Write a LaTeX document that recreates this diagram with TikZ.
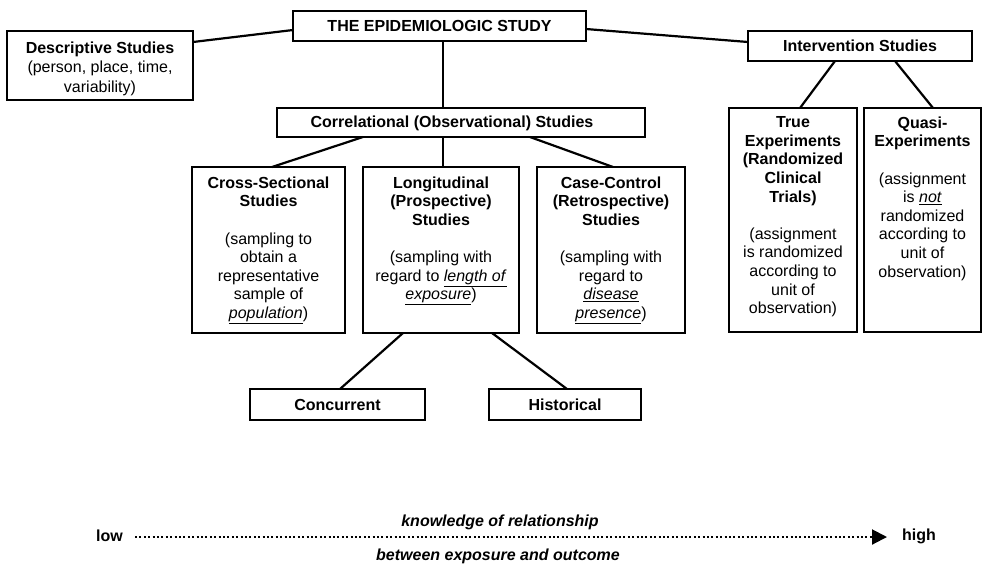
\documentclass[tikz,border=0pt]{standalone}
\usepackage{fontspec}
\setmainfont{Liberation Sans}
\usetikzlibrary{calc,arrows.meta}

\begin{document}
\begin{tikzpicture}[x=1pt,y=-1pt,
  frame/.style={draw, line width=2.4pt, rectangle, inner sep=0pt, outer sep=0pt},
  link/.style={line width=2.2pt},
  hd/.style={font=\fontsize{16}{18.6}\selectfont\bfseries},
  txt/.style={font=\fontsize{16}{18.6}\selectfont, align=center, inner sep=0pt, anchor=north},
  axis/.style={font=\fontsize{16}{18}\selectfont\bfseries\itshape, inner sep=0pt}]
\useasboundingbox (0,0) rectangle (984,566);

% --- boxes -------------------------------------------------------------
\node[frame, hd, minimum width=293pt, minimum height=30pt] (epi) at (439.5,26) {THE EPIDEMIOLOGIC STUDY};
\node[frame, minimum width=186pt, minimum height=69pt] (desc) at (100,65.5) {};
\node[frame, hd, minimum width=224pt, minimum height=30pt] (interv) at (860,46) {Intervention Studies};
\node[frame, minimum width=368pt, minimum height=29pt] (corr) at (461,122.5) {};
\node[frame, minimum width=153pt, minimum height=166pt] (cs) at (268.5,250) {};
\node[frame, minimum width=156pt, minimum height=166pt] (lon) at (441,250) {};
\node[frame, minimum width=148pt, minimum height=166pt] (cc) at (611,250) {};
\node[frame, minimum width=128pt, minimum height=224pt] (te) at (793,220) {};
\node[frame, minimum width=117pt, minimum height=224pt] (qe) at (922.5,220) {};
\node[frame, hd, minimum width=175pt, minimum height=31pt] (conc) at (337.5,404.5) {Concurrent};
\node[frame, hd, minimum width=152pt, minimum height=31pt] (hist) at (565,404.5) {Historical};

% --- box texts -----------------------------------------------------------
\node[txt, font=\fontsize{16}{19.5}\selectfont] (desc-t) at (100,41.5)
  {\textbf{Descriptive Studies}\\(person, place, time,\\variability)};
\node[hd, inner sep=0pt] (corr-t) at (452,123) {Correlational (Observational) Studies};
\node[txt] (cs-t) at (268.5,176.5)
  {\textbf{Cross-Sectional}\\\textbf{Studies}\\[18.6pt](sampling to\\obtain a\\representative\\sample of\\\underline{\textit{population}})};
\node[txt] (lon-t) at (441,176.5)
  {\textbf{Longitudinal}\\\textbf{(Prospective)}\\\textbf{Studies}\\[18.6pt](sampling with\\regard to \underline{\textit{length of}}\\\underline{\textit{exposure}})};
\node[txt] (cc-t) at (611,176.5)
  {\textbf{Case-Control}\\\textbf{(Retrospective)}\\\textbf{Studies}\\[18.6pt](sampling with\\regard to\\\underline{\textit{disease}}\\\underline{\textit{presence}})};
\node[txt] (te-t) at (793,116.5)
  {\textbf{True}\\\textbf{Experiments}\\\textbf{(Randomized}\\\textbf{Clinical}\\\textbf{Trials)}\\[18.6pt](assignment\\is randomized\\according to\\unit of\\observation)};
\node[txt] (qe-t) at (922.5,116.5)
  {\textbf{Quasi-}\\\textbf{Experiments}\\[18.6pt](assignment\\is \underline{\textit{not}}\\randomized\\according to\\unit of\\observation)};

% --- connectors ----------------------------------------------------------
\draw[link] ($(desc.north east)+(0,11)$) -- ($(epi.north west)+(0,19)$);
\draw[link] ($(epi.north east)+(0,18)$) -- ($(interv.north west)+(0,11)$);
\draw[link] ($(epi.south west)+(150,0)$) -- ($(corr.north west)+(166,0)$);
\draw[link] ($(corr.south west)+(86,0)$) -- ($(cs.north west)+(80,0)$);
\draw[link] ($(corr.south west)+(166,0)$) -- ($(lon.north west)+(80,0)$);
\draw[link] ($(corr.south west)+(253,0)$) -- ($(cc.north west)+(76,0)$);
\draw[link] ($(interv.south west)+(87,0)$) -- ($(te.north west)+(71,0)$);
\draw[link] ($(interv.south west)+(147,0)$) -- ($(qe.north west)+(69,0)$);
\draw[link] ($(lon.south west)+(40,0)$) -- ($(conc.north west)+(90,0)$);
\draw[link] ($(lon.south west)+(129,0)$) -- ($(hist.north west)+(78,0)$);

% --- knowledge scale -----------------------------------------------------
\node[hd, inner sep=0pt, anchor=east] (low) at (123,536) {low};
\node[hd, inner sep=0pt, anchor=west] (high) at (902,536) {high};
\draw[line width=2pt, dash pattern=on 2pt off 2.4pt, -{Triangle[length=15pt,width=15pt]}]
  ($(low.east)+(12,1)$) -- ($(high.west)+(-15,1)$);
\node[axis] (rel1) at (500,522) {knowledge of relationship};
\node[axis] (rel2) at (498,556) {between exposure and outcome};
\end{tikzpicture}
\end{document}
